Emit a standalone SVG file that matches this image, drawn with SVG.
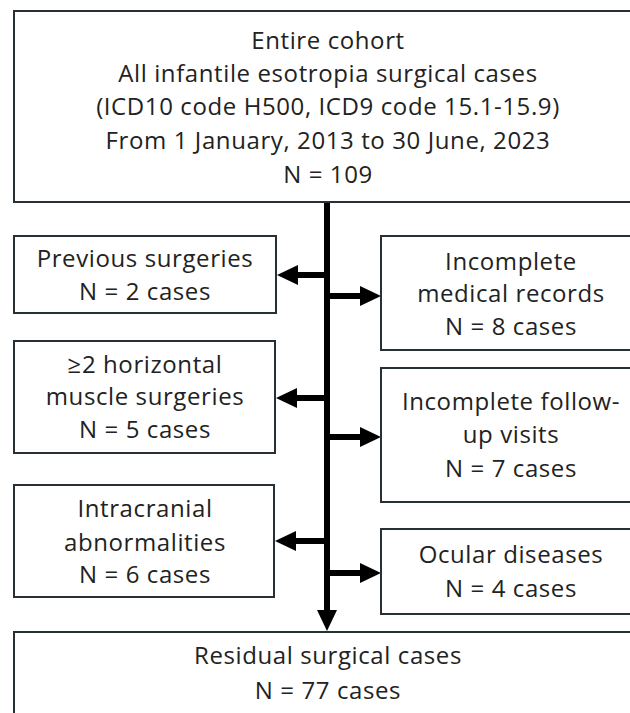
<svg xmlns="http://www.w3.org/2000/svg" width="630" height="713" viewBox="0 0 630 713">
<style>
.box{fill:#fff;stroke:#263035;stroke-width:2}
.t{font-family:"Open Sans","Liberation Sans",sans-serif;font-size:24px;fill:#222;text-anchor:middle;letter-spacing:0.6px}
.c{stroke:#000;stroke-width:6;fill:none}
</style>
<defs>
<marker id="ah" markerUnits="userSpaceOnUse" markerWidth="22" markerHeight="20" refX="5" refY="10" orient="auto">
<path d="M0,0 L21,10 L0,20 z" fill="#000"/>
</marker>
</defs>
<rect width="630" height="713" fill="#fff"/>
<g id="connectors">
<line class="c" x1="327" y1="202" x2="327" y2="615" marker-end="url(#ah)"/>
<line class="c" x1="327" y1="275" x2="293" y2="275" marker-end="url(#ah)"/>
<line class="c" x1="327" y1="398" x2="292" y2="398" marker-end="url(#ah)"/>
<line class="c" x1="327" y1="541" x2="291" y2="541" marker-end="url(#ah)"/>
<line class="c" x1="327" y1="296" x2="365" y2="296" marker-end="url(#ah)"/>
<line class="c" x1="327" y1="437" x2="365" y2="437" marker-end="url(#ah)"/>
<line class="c" x1="327" y1="573" x2="365" y2="573" marker-end="url(#ah)"/>
</g>
<g id="entire-cohort">
<rect class="box" x="14" y="11" width="628" height="191"/>
<text class="t" x="328" y="49">Entire cohort</text>
<text class="t" x="328" y="82">All infantile esotropia surgical cases</text>
<text class="t" x="328" y="115">(ICD10 code H500, ICD9 code 15.1-15.9)</text>
<text class="t" x="328" y="149">From 1 January, 2013 to 30 June, 2023</text>
<text class="t" x="328" y="183">N = 109</text>
</g>
<g id="previous-surgeries">
<rect class="box" x="14" y="236" width="262" height="77"/>
<text class="t" x="145" y="267">Previous surgeries</text>
<text class="t" x="145" y="300">N = 2 cases</text>
</g>
<g id="horizontal-muscle">
<rect class="box" x="14" y="341" width="261" height="112"/>
<text class="t" x="145" y="373">≥2 horizontal</text>
<text class="t" x="145" y="405">muscle surgeries</text>
<text class="t" x="145" y="438">N = 5 cases</text>
</g>
<g id="intracranial">
<rect class="box" x="14" y="485" width="260" height="112"/>
<text class="t" x="145" y="517">Intracranial</text>
<text class="t" x="145" y="551">abnormalities</text>
<text class="t" x="145" y="583">N = 6 cases</text>
</g>
<g id="medical-records">
<rect class="box" x="381" y="236" width="261" height="114"/>
<text class="t" x="511" y="270">Incomplete</text>
<text class="t" x="511" y="302">medical records</text>
<text class="t" x="511" y="335">N = 8 cases</text>
</g>
<g id="follow-up">
<rect class="box" x="381" y="368" width="261" height="134"/>
<text class="t" x="511" y="410">Incomplete follow-</text>
<text class="t" x="511" y="443">up visits</text>
<text class="t" x="511" y="477">N = 7 cases</text>
</g>
<g id="ocular">
<rect class="box" x="381" y="529" width="261" height="85"/>
<text class="t" x="511" y="563">Ocular diseases</text>
<text class="t" x="511" y="597">N = 4 cases</text>
</g>
<g id="residual">
<rect class="box" x="14" y="632" width="628" height="100"/>
<text class="t" x="328" y="664">Residual surgical cases</text>
<text class="t" x="328" y="699">N = 77 cases</text>
</g>
</svg>
